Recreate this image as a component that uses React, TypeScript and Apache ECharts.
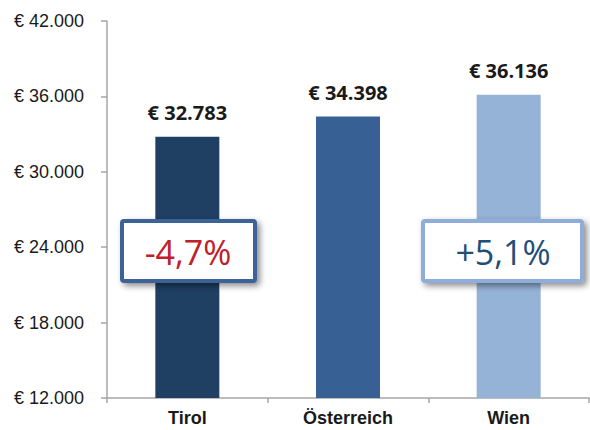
import React, { useEffect, useRef } from "react";
import * as echarts from "echarts";

const categories = ["Tirol", "Österreich", "Wien"];
const values = [32783, 34398, 36136];
const barColors = ["#1f3f63", "#376195", "#95b3d7"];
const yMin = 12000;
const yMax = 42000;
const yInterval = 6000;
const changeLabels = ["-4,7%", "+5,1%"];

const fmt = (v: number) => "€ " + v.toLocaleString("de-DE");

export default function App() {
  const ref = useRef<HTMLDivElement>(null);
  useEffect(() => {
    const chart = echarts.init(ref.current!, null, { renderer: "svg" });
    const shadow = {
      shadowBlur: 6,
      shadowOffsetX: 3,
      shadowOffsetY: 3,
      shadowColor: "rgba(0,0,0,0.45)",
    };
    chart.setOption({
      animation: false,
      backgroundColor: "#ffffff",
      grid: { left: 107, right: 1, top: 21, bottom: 32 },
      xAxis: {
        type: "category",
        data: categories,
        axisLine: { lineStyle: { color: "#a6a6a6", width: 1.5 } },
        axisTick: { show: true, length: 5, lineStyle: { color: "#a6a6a6", width: 1.5 } },
        axisLabel: {
          color: "#1a1a1a",
          fontFamily: "Liberation Sans",
          fontWeight: "bold",
          fontSize: 18,
          margin: 11,
        },
      },
      yAxis: {
        type: "value",
        min: yMin,
        max: yMax,
        interval: yInterval,
        axisLine: { show: true, lineStyle: { color: "#a6a6a6", width: 1.5 } },
        axisTick: { show: true, length: 6, lineStyle: { color: "#a6a6a6", width: 1.5 } },
        splitLine: { show: false },
        axisLabel: {
          color: "#1a1a1a",
          fontFamily: "Liberation Sans",
          fontSize: 18,
          margin: 23,
          formatter: (v: number) => fmt(v),
        },
      },
      series: [
        {
          type: "bar",
          barWidth: 64,
          data: values.map((v, i) => ({ value: v, itemStyle: { color: barColors[i] } })),
          label: {
            show: true,
            position: "top",
            distance: 14,
            color: "#1a1a1a",
            fontFamily: "Open Sans",
            fontWeight: "bold",
            fontSize: 20,
            formatter: (p: any) => fmt(p.value),
          },
        },
      ],
      graphic: [
        {
          type: "rect",
          z: 100,
          shape: { x: 122, y: 221, width: 133, height: 60, r: 2 },
          style: { fill: "#ffffff", stroke: "#3a6395", lineWidth: 4, ...shadow },
        },
        {
          type: "text",
          z: 101,
          x: 188,
          y: 252,
          style: {
            text: changeLabels[0],
            fill: "#c0202a",
            font: "34px 'Open Sans'",
            align: "center",
            verticalAlign: "middle",
          },
        },
        {
          type: "rect",
          z: 100,
          shape: { x: 423, y: 221, width: 159, height: 60, r: 2 },
          style: { fill: "#ffffff", stroke: "#8eadd8", lineWidth: 4, ...shadow },
        },
        {
          type: "text",
          z: 101,
          x: 503,
          y: 252,
          style: {
            text: changeLabels[1],
            fill: "#1f4e79",
            font: "34px 'Open Sans'",
            align: "center",
            verticalAlign: "middle",
          },
        },
      ],
    });
    return () => chart.dispose();
  }, []);
  return (
    <div
      ref={ref}
      style={{ position: "fixed", left: 0, top: 0, width: 590, height: 430 }}
    />
  );
}
